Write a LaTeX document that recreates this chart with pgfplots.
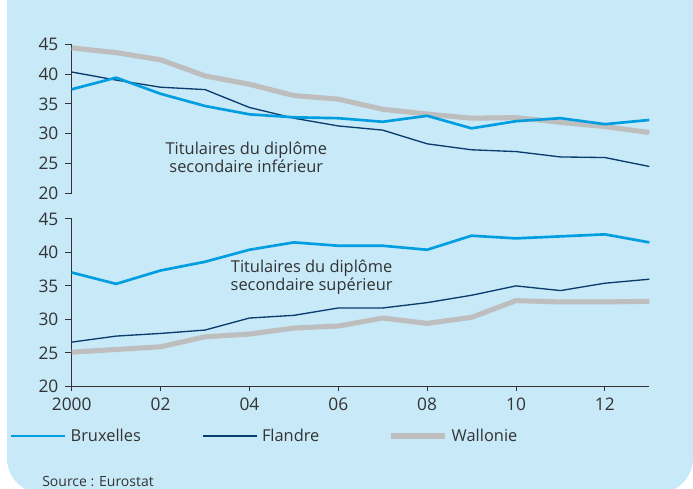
\documentclass[border=0pt]{standalone}
\usepackage{fontspec}
\setmainfont{Open Sans}
\usepackage{pgfplots}
\usepackage{pgfplotstable}
\pgfplotsset{compat=1.18}
\definecolor{bgc}{HTML}{C7E9F8}
\definecolor{bru}{HTML}{009EE0}
\definecolor{fla}{HTML}{0A3C6E}
\definecolor{wal}{HTML}{BEBEBE}
\definecolor{txt}{HTML}{333333}
\newcommand\fs{\fontsize{12.3}{13.5}\selectfont}
\newcommand\ts{\fontsize{13}{14}\selectfont}

\pgfplotstableread{
year bru fla wal
2000 37.45 40.35 44.4
2001 39.4 39.0 43.6
2002 36.7 37.8 42.4
2003 34.65 37.4 39.7
2004 33.25 34.4 38.3
2005 32.75 32.6 36.4
2006 32.6 31.3 35.8
2007 32.0 30.6 34.1
2008 33.0 28.3 33.3
2009 30.9 27.3 32.6
2010 32.1 27.0 32.7
2011 32.6 26.1 31.9
2012 31.6 26.0 31.2
2013 32.3 24.5 30.2
}\inf

\pgfplotstableread{
year bru fla wal
2000 37.0 26.6 25.1
2001 35.3 27.5 25.5
2002 37.3 27.9 25.9
2003 38.6 28.4 27.4
2004 40.4 30.2 27.8
2005 41.5 30.6 28.7
2006 41.0 31.7 29.0
2007 41.0 31.7 30.2
2008 40.4 32.5 29.4
2009 42.5 33.6 30.3
2010 42.1 35.0 32.8
2011 42.4 34.3 32.6
2012 42.7 35.4 32.6
2013 41.5 36.0 32.7
}\sup

\pgfplotsset{
  brus/.style={color=bru, line width=2pt},
  flas/.style={color=fla, line width=1pt},
  wals/.style={color=wal, line width=3.8pt},
  panel/.style={
    scale only axis, width=433.2pt,
    xmin=2000, xmax=2013, ymin=20, ymax=45,
    ytick={20,25,...,45},
    axis y line*=left,
    tick align=outside,
    major tick length=5pt,
    axis line style={color=txt, line width=0.75pt},
    every tick/.style={color=txt, line width=0.75pt},
    tick label style={font=\ts, text=txt},
    yticklabel style={xshift=-1.5pt},
    /pgf/number format/assume math mode=true,
    clip=false,
    every axis plot/.append style={line join=round},
  },
}

\begin{document}
\begin{tikzpicture}[x=0.75pt,y=0.75pt]
\useasboundingbox (0,0) rectangle (693,489);
\begin{scope}
\clip (0,0) rectangle (693,489);
\fill[bgc] (7,489) [rounded corners=26pt] -- (7,-4) -- (693,-4) [sharp corners] -- (693,489) -- cycle;
\end{scope}

\begin{axis}[panel, at={(53.775pt,221.775pt)}, anchor=south west,
  height=111.75pt, axis x line=none, xtick=\empty]
  \addplot[wals] table[x=year,y=wal]{\inf};
  \addplot[flas] table[x=year,y=fla]{\inf};
  \addplot[brus] table[x=year,y=bru]{\inf};
  \node[font=\fs, text=txt, align=center, inner sep=0pt] at (axis cs:2003.93,26.1)
    {Titulaires du diplôme\\secondaire inférieur};
\end{axis}

\begin{axis}[panel, at={(53.775pt,77.025pt)}, anchor=south west,
  height=125.5pt, axis x line*=bottom,
  xtick={2000,2002,...,2012},
  xticklabels={2000,02,04,06,08,10,12},
  xtick style={/pgfplots/major tick length=3.75pt},
  legend columns=3,
  legend style={draw=none, fill=none, inner sep=0pt, outer sep=0pt,
    at={(axis description cs:-0.1068,-0.297)}, anchor=west,
    font=\fs, text=txt, nodes={inner sep=0pt, anchor=west}},
  legend image code/.code={\draw[#1] (0pt,0pt) -- (40.5pt,0pt); \path (43.5pt,0pt);},
  ]
  \addlegendimage{brus}
  \addlegendentry{\makebox[99pt][l]{Bruxelles}}
  \addlegendimage{flas}
  \addlegendentry{\makebox[95pt][l]{Flandre}}
  \addlegendimage{wals}
  \addlegendentry{Wallonie}
  \addplot[wals, forget plot] table[x=year,y=wal]{\sup};
  \addplot[flas, forget plot] table[x=year,y=fla]{\sup};
  \addplot[brus, forget plot] table[x=year,y=bru]{\sup};
  \node[font=\fs, text=txt, align=center, inner sep=0pt] at (axis cs:2005.4,36.33)
    {Titulaires du diplôme\\secondaire supérieur};
\end{axis}

\node[anchor=west, inner sep=0pt, font=\fontsize{10.5}{12}\selectfont, text=txt] at (42,7) {Source : Eurostat};
\end{tikzpicture}
\end{document}
